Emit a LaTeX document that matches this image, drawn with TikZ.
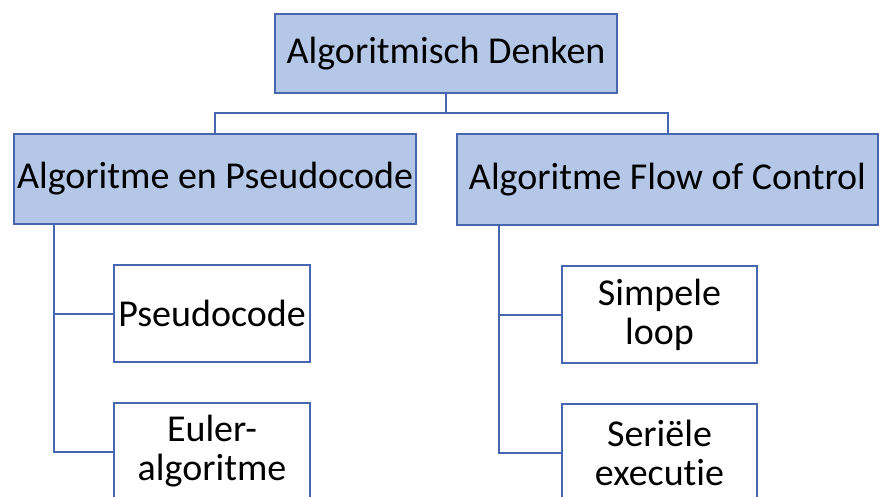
\documentclass[tikz,border=0pt]{standalone}
\usepackage{fontspec}
\setmainfont[Ligatures=CommonOff]{Carlito}
\definecolor{boxfill}{RGB}{180,199,231}
\definecolor{boxline}{RGB}{70,102,176}
\begin{document}
\begin{tikzpicture}[x=1pt,y=-1pt,
  base/.style={draw=boxline,line width=2pt,inner sep=0pt,align=center,
    font=\fontsize{38}{39}\selectfont,text=black},
  headbox/.style={base,fill=boxfill},
  leafbox/.style={base,fill=white,minimum width=196pt,minimum height=97pt},
  conn/.style={draw=boxline,line width=2pt}]
\useasboundingbox (0,0) rectangle (881,496);
\fill[white] (0,0) rectangle (881,496);
\clip (0,0) rectangle (881,496);
\node[headbox,minimum width=342pt,minimum height=79pt] (top) at (446,53.5) {Algoritmisch Denken};
\node[headbox,minimum width=402pt,minimum height=90pt] (L) at (215,179) {Algoritme en Pseudocode};
\node[headbox,minimum width=421pt,minimum height=91pt] (R) at (667.5,179.5) {Algoritme Flow of Control};
\node[leafbox] (L1) at (212,313.5) {Pseudocode};
\node[leafbox] (L2) at (212,451.5) {Euler-\\algoritme};
\node[leafbox,minimum width=195pt] (R1) at (659.5,314.5) {Simpele\\loop};
\node[leafbox,minimum width=195pt] (R2) at (659.5,452.5) {Seriële\\executie};
\coordinate (j) at (446,113);
\coordinate (lb) at (54,224);
\coordinate (rb) at (499,225);
\draw[conn] (top.south) -- (j);
\draw[conn] (L.north) -- (L.north |- j) -- (R.north |- j) -- (R.north);
\draw[conn] (lb) |- (L1.west);
\draw[conn] (lb) |- (L2.west);
\draw[conn] (rb) |- (R1.west);
\draw[conn] (rb) |- (R2.west);
\end{tikzpicture}
\end{document}
